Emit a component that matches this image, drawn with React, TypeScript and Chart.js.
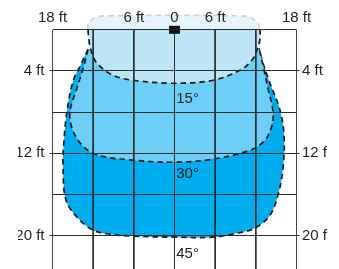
import React, { useEffect, useRef } from 'react';
import { Chart, registerables } from 'chart.js';

Chart.register(...registerables);

// Grid / tick data (feet)
const xGridValues = [-18, -12, -6, 0, 6, 12, 18];
const xTickLabels = ['18 ft', '', '6 ft', '0', '6 ft', '', '18 ft'];
const yGridValues = [0, 4, 8, 12, 16, 20];
const yTickLabels = ['', '4 ft', '', '12 ft', '', '20 ft'];
const yRangeMin = -1.926;
const yRangeMax = 23.269;

// 45° zone outline
const outerX = [-12.76, -13.79, -14.97, -15.86, -16.3, -16.45, -16.01, -14.24, -12.02, -9.52, -6.12, 0, 5.68, 9.22, 11.88, 14.09, 15.27, 16.01, 16.16, 15.57, 14.09, 12.91, 12.47];
const outerY = [1.9, 3.35, 5.0, 7.92, 10.74, 13.17, 16.57, 18.32, 19.49, 19.88, 20.07, 20.17, 20.17, 19.78, 19.29, 18.03, 16.08, 13.46, 10.25, 7.82, 5.2, 2.96, 1.8];

// 30° zone outline
const middleX = [-12.76, -13.35, -14.39, -15.42, -15.12, -13.65, -11.29, -6.12, 0, 5.68, 11.14, 13.35, 14.38, 14.53, 13.79, 13.06, 12.47];
const middleY = [1.9, 3.45, 5.69, 7.92, 9.57, 11.22, 12.2, 12.68, 12.88, 12.58, 11.71, 10.74, 9.28, 7.92, 5.69, 3.45, 1.8];

// 15° zone outline (inside the grid)
const innerX = [-12.76, -12.62, -12.32, -11.43, -9.07, -6.12, 0, 5.68, 9.66, 11.43, 12.32, 12.62, 12.62];
const innerY = [0, 1.02, 1.99, 3.26, 4.42, 4.91, 5.2, 4.91, 3.94, 2.96, 1.7, 0.83, 0];

// 15° zone part above the grid
const capX = [-12.76, -12.76, -12.32, -11.43, -9.96, 0, 9.66, 11.14, 12.18, 12.62];
const capY = [0, -0.44, -0.92, -1.26, -1.36, -1.41, -1.36, -1.21, -0.73, 0];

// fixture marker
const markerX = [-0.8, 0.8];
const markerY = [0, 0];

// zone labels
const zoneLabels = ['15°', '30°', '45°'];
const zoneLabelX = [0.25, 0.25, 0.25];
const zoneLabelY = [6.73, 14.04, 21.77];

const FONT_FAMILY = 'Arial, "Liberation Sans", Helvetica, sans-serif';
const TEXT_COLOR = '#231f20';
const GRID_COLOR = '#2b2b2b';

const pts = (xs: number[], ys: number[]) => xs.map((x, i) => ({ x, y: ys[i] }));

const zeroPadding = (s: any) => {
  s.paddingTop = 0;
  s.paddingBottom = 0;
  s.paddingLeft = 0;
  s.paddingRight = 0;
};

const zoneLabelPlugin = {
  id: 'zoneLabels',
  afterDraw(chart: any) {
    const { ctx } = chart;
    const xs = chart.scales.x;
    const ys = chart.scales.y;
    ctx.save();
    ctx.font = `15px ${FONT_FAMILY}`;
    ctx.fillStyle = TEXT_COLOR;
    ctx.textAlign = 'left';
    ctx.textBaseline = 'middle';
    zoneLabels.forEach((t, i) => {
      ctx.fillText(t, xs.getPixelForValue(zoneLabelX[i]), ys.getPixelForValue(zoneLabelY[i]));
    });
    ctx.restore();
  },
};

export default function App() {
  const canvasRef = useRef<HTMLCanvasElement>(null);

  useEffect(() => {
    document.body.style.margin = '0';
    const canvas = canvasRef.current;
    if (!canvas) return;

    const vLines: any[] = [];
    xGridValues.forEach((x) => {
      vLines.push({ x, y: 0 }, { x, y: yRangeMax }, { x, y: null });
    });

    const shapeDs = (label: string, xs: number[], ys: number[], bg: string, border: string, order: number) => ({
      label,
      data: pts(xs, ys),
      fill: 'shape',
      backgroundColor: bg,
      borderColor: border,
      borderWidth: 1.7,
      borderDash: [5.5, 4],
      tension: 0.35,
      pointRadius: 0,
      order,
    });

    const yTickColor = (c: any) => (yTickLabels[c.index] ? GRID_COLOR : 'rgba(0,0,0,0)');

    const chart = new Chart(canvas, {
      type: 'line',
      data: {
        datasets: [
          shapeDs('45°', outerX, outerY, '#00aeef', '#1a1a1a', 6) as any,
          shapeDs('30°', middleX, middleY, '#6dcff6', '#1a1a1a', 5) as any,
          shapeDs('15°', innerX, innerY, '#bde5f8', '#1a1a1a', 4) as any,
          shapeDs('15° top', capX, capY, '#e6f4fc', '#cdd1d4', 3) as any,
          {
            label: 'grid',
            data: vLines,
            borderColor: GRID_COLOR,
            borderWidth: 1,
            pointRadius: 0,
            spanGaps: false,
            tension: 0,
            fill: false,
            order: 2,
          } as any,
          {
            label: 'fixture',
            data: pts(markerX, markerY),
            borderColor: '#111',
            borderWidth: 8,
            borderCapStyle: 'butt',
            pointRadius: 0,
            tension: 0,
            fill: false,
            order: 1,
            clip: false,
          } as any,
        ],
      },
      options: {
        animation: false,
        responsive: false,
        maintainAspectRatio: false,
        events: [],
        layout: { padding: 0, autoPadding: false } as any,
        plugins: {
          legend: { display: false },
          tooltip: { enabled: false },
        },
        scales: {
          x: {
            type: 'linear',
            position: 'top',
            min: -18,
            max: 18,
            afterBuildTicks: (s: any) => {
              s.ticks = xGridValues.map((v) => ({ value: v }));
            },
            afterFit: (s: any) => {
              s.height = 10;
              zeroPadding(s);
            },
            grid: { display: false, drawTicks: false },
            border: { display: false },
            ticks: {
              z: 1,
              mirror: true,
              padding: -1.2,
              autoSkip: false,
              maxRotation: 0,
              color: TEXT_COLOR,
              font: { family: FONT_FAMILY, size: 15 },
              callback: (_v: any, i: number) => xTickLabels[i],
            },
          } as any,
          y: {
            type: 'linear',
            position: 'left',
            reverse: true,
            min: yRangeMin,
            max: yRangeMax,
            afterBuildTicks: (s: any) => {
              s.ticks = yGridValues.map((v) => ({ value: v }));
            },
            afterFit: (s: any) => {
              s.width = 34.5;
              zeroPadding(s);
            },
            grid: {
              z: 1,
              color: GRID_COLOR,
              lineWidth: 1,
              drawTicks: true,
              tickLength: 3,
              tickColor: yTickColor,
            },
            border: { display: false },
            ticks: {
              padding: 5,
              autoSkip: false,
              color: TEXT_COLOR,
              font: { family: FONT_FAMILY, size: 15 },
              callback: (_v: any, i: number) => yTickLabels[i],
            },
          } as any,
          y2: {
            type: 'linear',
            position: 'right',
            reverse: true,
            min: yRangeMin,
            max: yRangeMax,
            afterBuildTicks: (s: any) => {
              s.ticks = yGridValues.map((v) => ({ value: v }));
            },
            afterFit: (s: any) => {
              s.width = 30.5;
              zeroPadding(s);
            },
            grid: {
              z: 1,
              drawOnChartArea: false,
              color: GRID_COLOR,
              drawTicks: true,
              tickLength: 3,
              tickColor: yTickColor,
            },
            border: { display: false },
            ticks: {
              padding: 2.5,
              autoSkip: false,
              color: TEXT_COLOR,
              font: { family: FONT_FAMILY, size: 15 },
              callback: (_v: any, i: number) => yTickLabels[i],
            },
          } as any,
        },
      },
      plugins: [zoneLabelPlugin],
    });

    return () => {
      chart.destroy();
    };
  }, []);

  return (
    <div style={{ position: 'relative', width: 339, height: 269, overflow: 'hidden', background: '#fff' }}>
      <canvas
        ref={canvasRef}
        width={309}
        height={269}
        style={{ position: 'absolute', left: 18, top: 0, width: 309, height: 269 }}
      />
    </div>
  );
}
